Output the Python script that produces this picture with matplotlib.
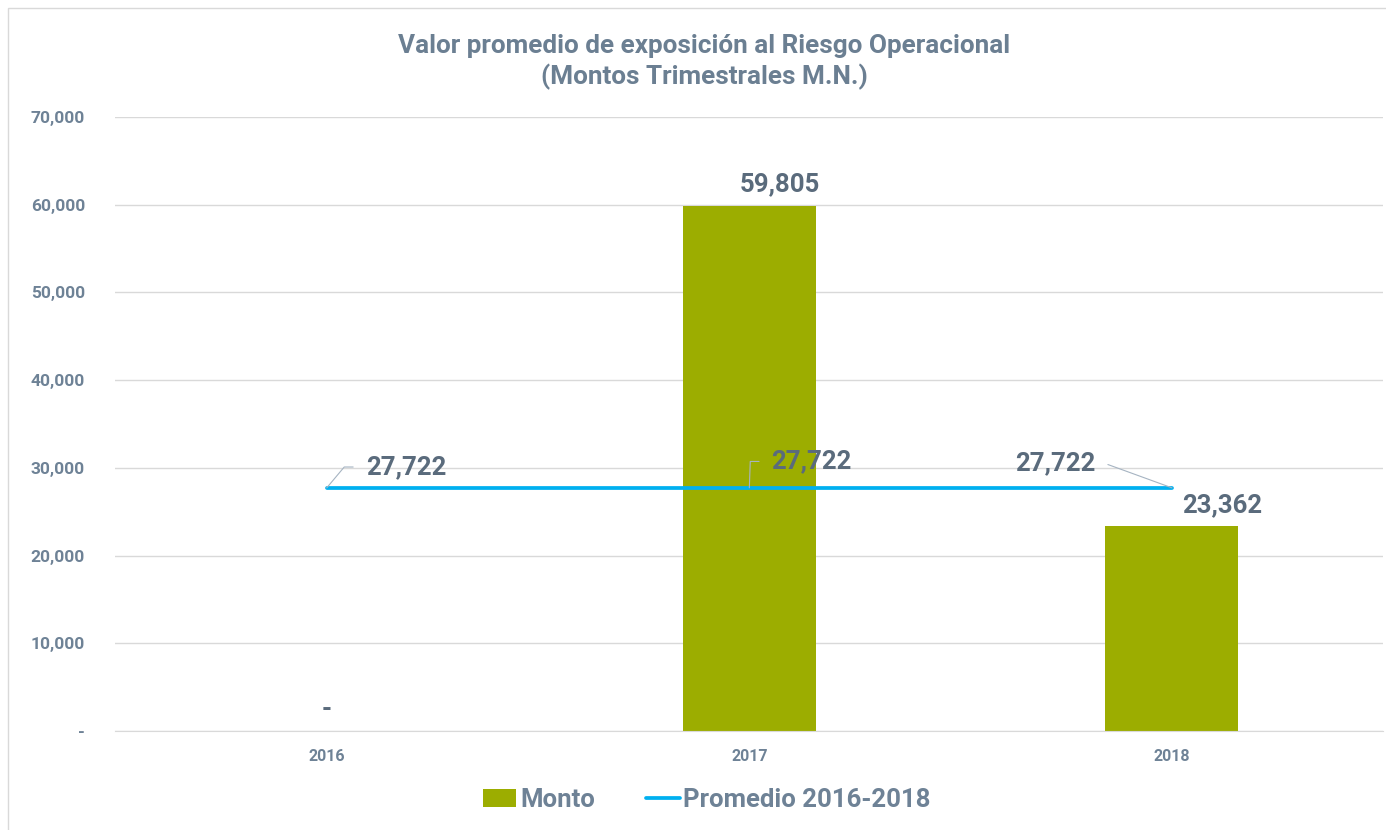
import matplotlib.pyplot as plt
from matplotlib.ticker import FuncFormatter
from matplotlib.patches import Rectangle

plt.rcParams['font.family'] = ['Roboto', 'DejaVu Sans']

years = ['2016', '2017', '2018']
monto = [0, 59805, 23362]
promedio = [27722, 27722, 27722]

# label offsets in points (dx, dy) for the data labels
monto_offsets = [(0, 16), (22, 16), (36, 15)]
prom_offsets = [(28, 15), (16, 19), (-55, 18)]

bar_color = '#9CAD00'
line_color = '#00B0F0'
text_color = '#5A6B7C'
tick_color = '#6E8296'
grid_color = '#D9D9D9'

fig = plt.figure(figsize=(13.86, 8.30), dpi=100)
ax = fig.add_axes([0.0833, 0.1193, 0.9147, 0.7397])

fig.patches.append(Rectangle((8 / 1386, -0.1), 1.2, 1 - 8 / 830 + 0.1,
                             transform=fig.transFigure, fill=False,
                             edgecolor='#D9D9D9', linewidth=1))

x = list(range(len(years)))
bars = ax.bar(x, monto, width=0.315, color=bar_color, label='Monto', zorder=2)
line, = ax.plot(x, promedio, color=line_color, linewidth=2.7, label='Promedio 2016-2018',
                zorder=3, solid_capstyle='round')

ax.set_xlim(-0.5, 2.5)
ax.set_ylim(0, 70000)
ax.set_yticks(range(0, 70001, 10000))
ax.yaxis.set_major_formatter(FuncFormatter(lambda v, p: '-' if v == 0 else f'{v:,.0f}'))
ax.set_xticks(x)
ax.set_xticklabels(years)
ax.grid(axis='y', color=grid_color, linewidth=1, zorder=0)
ax.set_axisbelow(True)
for s in ['top', 'right', 'left']:
    ax.spines[s].set_visible(False)
ax.spines['bottom'].set_color(grid_color)
ax.tick_params(axis='y', length=0, pad=22, labelsize=12.5, labelcolor=tick_color)
ax.tick_params(axis='x', length=0, pad=13, labelsize=11.5, labelcolor=tick_color)
for lbl in ax.get_xticklabels() + ax.get_yticklabels():
    lbl.set_fontweight('bold')

for i, v in enumerate(monto):
    txt = '-' if v == 0 else f'{v:,.0f}'
    ax.annotate(txt, (i, v), xytext=monto_offsets[i], textcoords='offset points',
                ha='center', va='center', fontsize=18.5, fontweight='bold', color=text_color)

for i, v in enumerate(promedio):
    dx, dy = prom_offsets[i]
    ha = 'left' if dx > 0 else 'right'
    ax.annotate(f'{v:,.0f}', (i, v), xytext=(dx, dy), textcoords='offset points',
                ha=ha, va='center', fontsize=18.5, fontweight='bold', color=text_color,
                arrowprops=dict(arrowstyle='-', color='#A6B4C2', linewidth=0.8,
                                shrinkA=7, shrinkB=0,
                                connectionstyle='angle,angleA=0,angleB=%d' % (50 if i == 0 else (88 if i == 1 else -20))),
                zorder=4)

fig.text(0.508, 0.925, 'Valor promedio de exposición al Riesgo Operacional\n(Montos Trimestrales M.N.)',
         ha='center', va='center', fontsize=18.8, fontweight='bold', color='#6B7F92',
         linespacing=1.3)

leg = fig.legend([bars, line], ['Monto', 'Promedio 2016-2018'], loc='center',
                 bbox_to_anchor=(0.51, 0.036), ncol=2, frameon=False,
                 fontsize=18.5, handlelength=1.3, handletextpad=0.15, columnspacing=2.0)
for t in leg.get_texts():
    t.set_color(tick_color)
    t.set_fontweight('bold')

fig.savefig('out.png', dpi=100)
